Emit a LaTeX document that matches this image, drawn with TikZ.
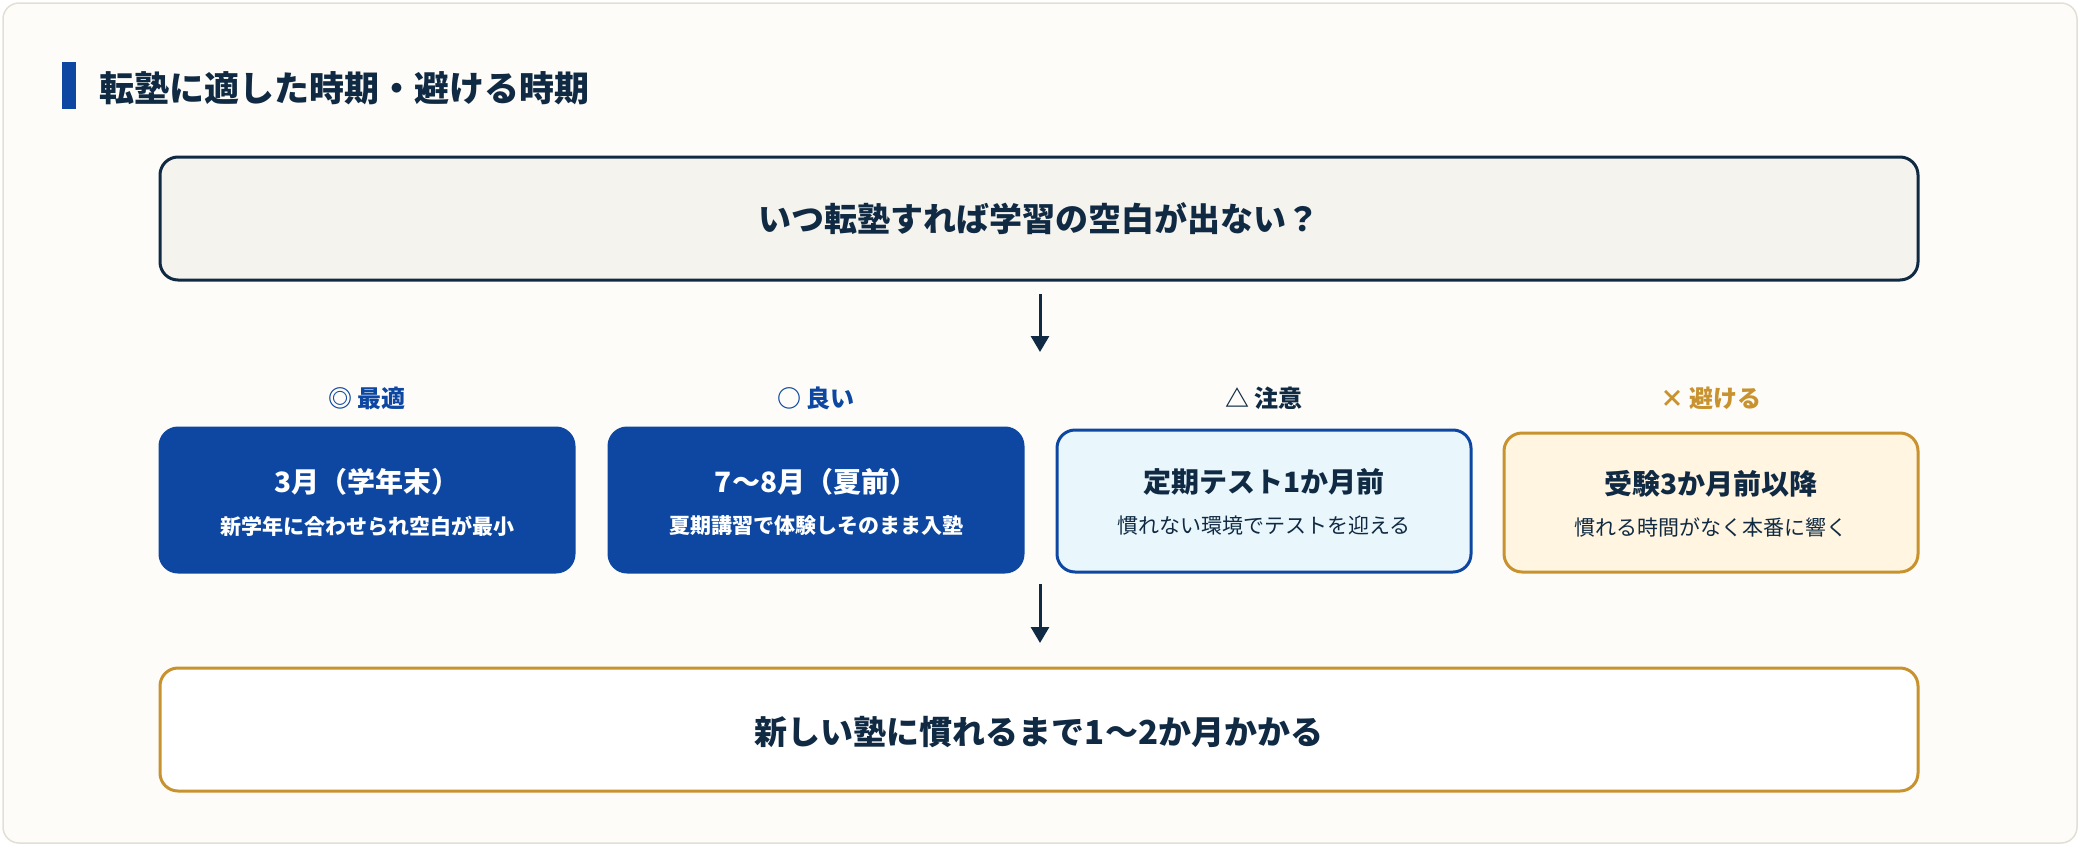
\documentclass[tikz,border=0pt]{standalone}
\usepackage{fontspec}
\setmainfont{Noto Sans CJK JP}
\usetikzlibrary{arrows.meta}
\definecolor{navy}{HTML}{102A43}
\definecolor{blu}{HTML}{0D47A1}
\definecolor{lblu}{HTML}{E9F7FD}
\definecolor{gold}{HTML}{C8922E}
\definecolor{cream}{HTML}{FFF5E1}
\definecolor{bg}{HTML}{FDFCF8}
\definecolor{frame}{HTML}{E2DFD3}
\definecolor{topf}{HTML}{F5F3EE}
\begin{document}
\begin{tikzpicture}[x=1pt,y=-1pt,
  wide/.style={rounded corners=18pt,line width=3pt},
  card/.style={rounded corners=18pt,line width=3pt},
  big/.style={font=\fontsize{33}{40}\selectfont\bfseries,text=navy},
  lab/.style={font=\fontsize{24}{28}\selectfont\bfseries},
  arr/.style={-{Triangle[length=16pt,width=18pt]},line width=3pt,navy}]
\useasboundingbox (0,0) rectangle (2080,846);
\draw[frame,fill=bg,line width=1.5pt,rounded corners=16pt] (3,3) rectangle (2077,843);
\fill[blu] (62,62) rectangle (76,109);
\node[anchor=west,font=\fontsize{35}{40}\selectfont\bfseries,text=navy] (title) at (96,88) {転塾に適した時期・避ける時期};
\draw[wide,navy,fill=topf] (160,157) rectangle (1918,280);
\node[big] (q) at (1039,219) {いつ転塾すれば学習の空白が出ない？};
\coordinate (q1) at (1040,294);
\coordinate (q2) at (1040,352);
\draw[arr] (q1) -- (q2);
% labels
\node[lab,text=blu] (l1) at (367,398) {◎ 最適};
\node[lab,text=blu] (l2) at (816,398) {○ 良い};
\node[lab,text=navy] (l3) at (1264,398) {△ 注意};
\node[lab,text=gold] (l4) at (1711,398) {× 避ける};
% cards
\draw[card,blu,fill=blu] (160,428) rectangle (574,572);
\draw[card,blu,fill=blu] (609,428) rectangle (1023,572);
\draw[card,blu,fill=lblu] (1057,430) rectangle (1471,572);
\draw[card,gold,fill=cream] (1504,433) rectangle (1918,572);
\node[font=\fontsize{28}{32}\selectfont\bfseries,text=white] (c1) at (367,482) {3月（学年末）};
\node[font=\fontsize{21}{26}\selectfont\bfseries,text=white] (s1) at (367,526) {新学年に合わせられ空白が最小};
\node[font=\fontsize{28}{32}\selectfont\bfseries,text=white] (c2) at (816,482) {7〜8月（夏前）};
\node[font=\fontsize{21}{26}\selectfont\bfseries,text=white] (s2) at (816,526) {夏期講習で体験しそのまま入塾};
\node[font=\fontsize{28}{32}\selectfont\bfseries,text=navy] (c3) at (1264,482) {定期テスト1か月前};
\node[font=\fontsize{21}{26}\selectfont,text=navy] (s3) at (1264,526) {慣れない環境でテストを迎える};
\node[font=\fontsize{28}{32}\selectfont\bfseries,text=navy] (c4) at (1711,484) {受験3か月前以降};
\node[font=\fontsize{21}{26}\selectfont,text=navy] (s4) at (1711,527) {慣れる時間がなく本番に響く};
\coordinate (m1) at (1040,584);
\coordinate (m2) at (1040,643);
\draw[arr] (m1) -- (m2);
\draw[wide,gold,fill=white] (160,668) rectangle (1918,791);
\node[big] (r) at (1039,732) {新しい塾に慣れるまで1〜2か月かかる};
\end{tikzpicture}
\end{document}
